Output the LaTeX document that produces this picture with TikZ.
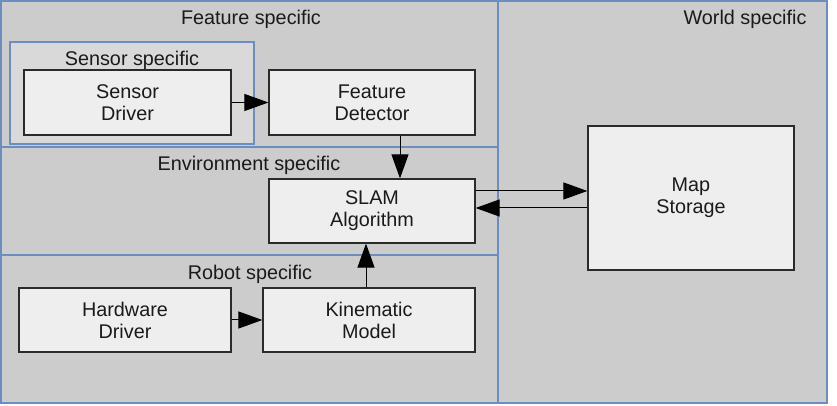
\documentclass[tikz,border=0pt]{standalone}
\usepackage{fontspec}
\setmainfont{Liberation Sans}
\usetikzlibrary{arrows.meta}
\definecolor{bggray}{HTML}{CCCCCC}
\definecolor{sensgray}{HTML}{D9D9D9}
\definecolor{boxfill}{HTML}{EEEEEE}
\definecolor{regionline}{HTML}{6C8EBF}
\definecolor{boxline}{HTML}{2A2A2A}
\definecolor{txt}{HTML}{1A1A1A}
\tikzset{
  region/.style={draw=regionline, line width=0.6pt, fill=bggray},
  blk/.style={draw=boxline, line width=0.6pt, fill=boxfill, align=center, text=txt,
    font=\fontsize{9.9}{11}\selectfont, inner sep=0pt},
  lbl/.style={text=txt, font=\fontsize{9.9}{11}\selectfont, inner sep=0pt},
  arr/.style={draw=black, line width=0.5pt, -{Triangle[length=12pt,width=8.5pt]}},
}
\begin{document}
\begin{tikzpicture}[x=0.5pt,y=-0.5pt]
\useasboundingbox (0,0) rectangle (837,406);
% regions
\draw[region] (498,1) rectangle (827,403);
\draw[region] (1,1) rectangle (498,147);
\draw[region] (1,147) rectangle (498,255);
\draw[region] (1,255) rectangle (498,403);
\draw[region, fill=sensgray] (10,42) rectangle (254,144);
% region labels
\node[lbl] (lfeat) at (251,19) {Feature specific};
\node[lbl] (lworld) at (745,19) {World specific};
\node[lbl] (lsens) at (132,60) {Sensor specific};
\node[lbl] (lenv) at (249,165) {Environment specific};
\node[lbl] (lrob) at (250,274) {Robot specific};
% blocks
\node[blk, minimum width=103.5pt, minimum height=32.5pt] (sd) at (127.5,102.5) {Sensor\\Driver};
\node[blk, minimum width=103pt, minimum height=32.5pt] (fd) at (372,102.5) {Feature\\Detector};
\node[blk, minimum width=103pt, minimum height=32pt] (slam) at (372,211) {SLAM\\Algorithm};
\node[blk, minimum width=106pt, minimum height=32pt] (hw) at (125,320) {Hardware\\Driver};
\node[blk, minimum width=106pt, minimum height=32pt] (kin) at (369,320) {Kinematic\\Model};
\node[blk, minimum width=103pt, minimum height=72pt] (map) at (691,198) {Map\\Storage};
% connectors
\draw[arr] (sd.east) -- (fd.west);
\draw[arr] ([xshift=14pt]fd.south) -- ([xshift=14pt]slam.north);
\draw[arr] ([yshift=10pt]slam.east) -- ([yshift=10pt]slam.east -| map.west);
\draw[arr] ([yshift=1.5pt]slam.east -| map.west) -- ([yshift=1.5pt]slam.east);
\draw[arr] ([xshift=-1.5pt]kin.north) -- ([xshift=-1.5pt]kin.north |- slam.south);
\draw[arr] (hw.east) -- (kin.west);
\end{tikzpicture}
\end{document}
